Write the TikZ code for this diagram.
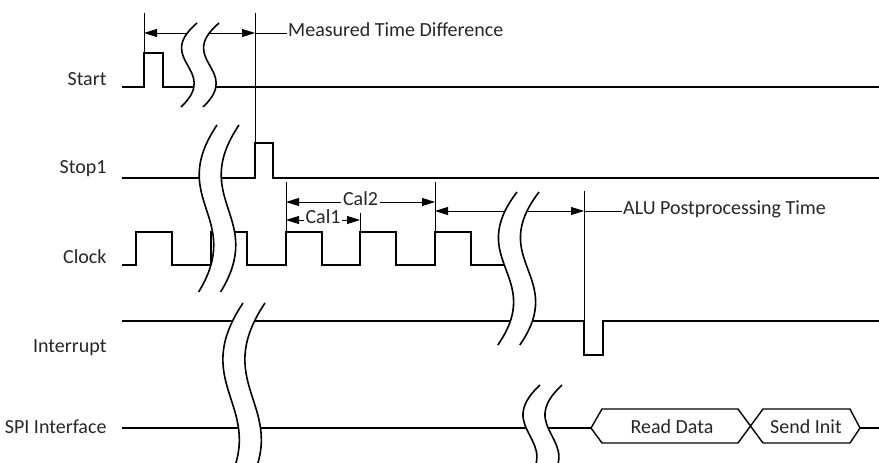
\documentclass[tikz,border=0pt]{standalone}
\usepackage{fontspec}
\setmainfont{Carlito}
\usetikzlibrary{arrows.meta}
\begin{document}
\begin{tikzpicture}[x=1pt, y=-1pt, font=\fontsize{20}{24}\selectfont,
    every node/.append style={text height=1.6ex, text depth=0.3ex, text=black!85},
    sig/.style={line width=1.8pt},
    bus/.style={line width=1.4pt},
    tick/.style={line width=0.8pt},
    dim/.style={line width=0.8pt, {Triangle[length=13pt,width=8pt]}-{Triangle[length=13pt,width=8pt]}},
    gapline/.style={line width=1.6pt},
    lbl/.style={anchor=base east}]
  \useasboundingbox (0,0) rectangle (879,463);
  \clip (0,0) rectangle (879,463);

  % signal names
  \node[lbl] (start) at (110,85)  {Start};
  \node[lbl] (stop)  at (110,173) {Stop1};
  \node[lbl] (clk)   at (110,263) {Clock};
  \node[lbl] (irq)   at (110,352) {Interrupt};
  \node[lbl] (spi)   at (110,433) {SPI Interface};

  % waveforms
  \draw[sig] (122,87) -- (144,87) -- (144,53) -- (163,53) -- (163,87) -- (879,87);
  \draw[sig] (122,178) -- (255,178) -- (255,143) -- (273,143) -- (273,178) -- (879,178);
  \draw[sig] (122,265) \foreach \p in {136,211,286,360,435} {
      -- (\p,265) -- (\p,232) -- (\p+36,232) -- (\p+36,265)} -- (512,265);
  \draw[sig] (122,321) -- (584,321) -- (584,355) -- (603,355) -- (603,321) -- (879,321);
  \draw[sig] (122,428) -- (591,428);
  \draw[bus] (591,428) -- (602,409) -- (738,409) -- (763,443) -- (850,443) -- (860,428)
             -- (850,409) -- (763,409) -- (738,443) -- (602,443) -- cycle;
  \draw[sig] (860,428) -- (879,428);
  \node[anchor=base] (rd) at (672,433) {Read Data};
  \node[anchor=base] (si) at (806,433) {Send Init};

  % time marks
  \draw[tick] (144,13) -- (144,53);
  \draw[tick] (255,13) -- (255,143);
  \draw[dim] (144,33) -- (255,33);
  \node[anchor=west, inner sep=1pt] (mtd) at (287,33) {Measured Time Difference};
  \draw[tick] (255,33) -- (mtd.west);

  \draw[tick] (286,182) -- (286,232);
  \draw[tick] (360,213) -- (360,232);
  \draw[tick] (435,182) -- (435,232);
  \draw[dim] (286,202) -- node[fill=white, inner sep=2pt] (cal2) {Cal2} (435,202);
  \draw[dim] (286,220) -- node[fill=white, inner sep=2pt] (cal1) {Cal1} (360,220);

  \draw[tick] (584,191) -- (584,321);
  \draw[dim] (435,211) -- (584,211);
  \node[anchor=west, inner sep=1pt] (alu) at (622,211) {ALU Postprocessing Time};
  \draw[tick] (584,211) -- (alu.west);

  % time breaks
  \foreach \bx/\by/\bh/\bw in {197/23/84/1, 217/125/167/1.15, 517/192/153/1.2,
                               243/303/190/1.3, 540/385/100/1.1} {
    \begin{scope}[shift={(\bx,\by)}]
      \fill[white] (0,0) .. controls (-44*\bw,0.45*\bh) and (24*\bw,0.55*\bh) .. (-16*\bw,\bh)
        -- (22-16*\bw,\bh) .. controls (22+24*\bw,0.55*\bh) and (22-44*\bw,0.45*\bh) .. (22,0) -- cycle;
      \draw[gapline] (0,0) .. controls (-44*\bw,0.45*\bh) and (24*\bw,0.55*\bh) .. (-16*\bw,\bh);
      \draw[gapline] (22,0) .. controls (22-44*\bw,0.45*\bh) and (22+24*\bw,0.55*\bh) .. (22-16*\bw,\bh);
    \end{scope}
  }
\end{tikzpicture}
\end{document}
